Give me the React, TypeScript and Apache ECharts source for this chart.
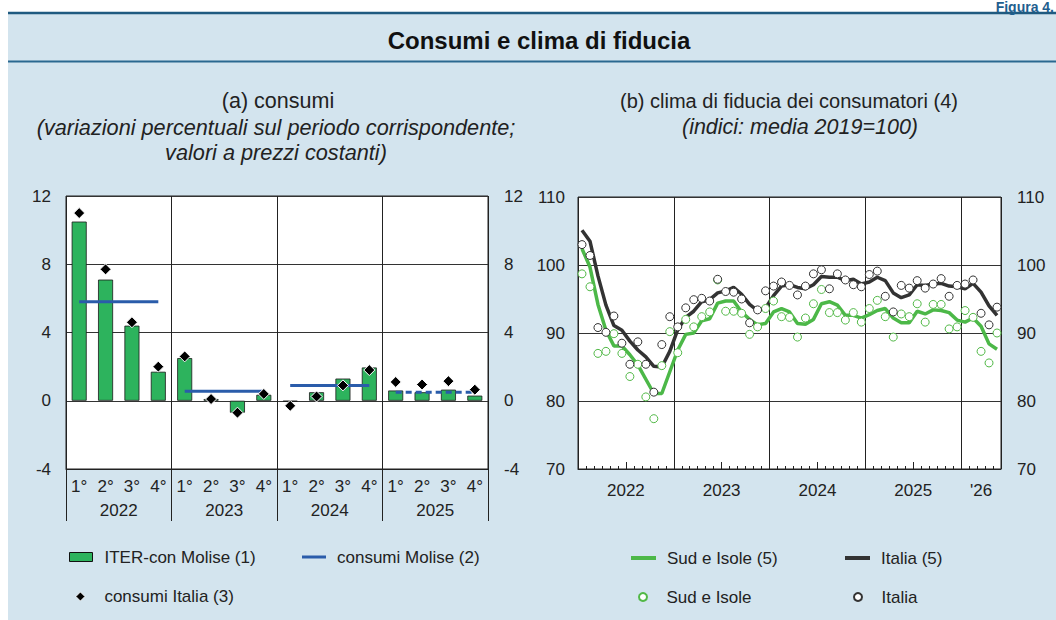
import React, { useEffect, useRef } from 'react';
import * as echarts from 'echarts';

// ---------- (a) consumi ----------
const years = ['2022', '2023', '2024', '2025'];
const quarters = ['1°', '2°', '3°', '4°'];
const iterMolise = [10.5, 7.1, 4.4, 1.7, 2.5, 0.1, -0.7, 0.35, -0.05, 0.5, 1.3, 1.95, 0.6, 0.5, 0.65, 0.3];
const consumiItalia = [11.0, 7.7, 4.6, 2.0, 2.6, 0.1, -0.7, 0.4, -0.3, 0.25, 0.9, 1.8, 1.1, 0.95, 1.15, 0.65];
const consumiMolise = [5.8, 0.55, 0.9, 0.5];
const moliseDashed = [false, false, false, true];
const leftTicks = { min: -4, max: 12, interval: 4 };

// ---------- (b) clima di fiducia ----------
const rightYearLabels = ['2022', '2023', '2024', '2025', "'26"];
const sudIsoleMA = [102.4, 99.7, 94.2, 90.4, 88.1, 88.1, 86.8, 85.3, 83.2, 81.1, 81.1, 84.3, 87.5, 89.8, 90.0, 91.8, 92.1, 94.4, 94.7, 94.7, 93.1, 92.0, 91.2, 91.4, 93.1, 93.6, 93.1, 91.4, 91.3, 92.0, 94.3, 94.6, 94.1, 92.6, 92.6, 92.2, 92.7, 93.3, 93.6, 92.2, 91.5, 91.5, 93.2, 92.8, 93.4, 93.3, 93.0, 91.9, 91.6, 92.2, 91.0, 88.4, 87.6];
const italiaMA = [105.1, 103.5, 98.4, 94.1, 91.1, 90.4, 88.8, 87.5, 86.5, 85.1, 85.0, 87.3, 90.5, 92.3, 93.2, 94.6, 94.9, 95.9, 96.2, 96.7, 95.7, 94.2, 93.3, 93.7, 95.5, 96.9, 97.1, 96.7, 96.5, 97.1, 98.3, 98.2, 98.2, 97.7, 97.9, 97.2, 97.5, 98.2, 97.7, 95.9, 95.2, 95.6, 97.1, 97.0, 97.2, 97.3, 96.9, 96.8, 96.5, 97.3, 96.0, 94.0, 92.6];
const sudIsole = [98.7, 96.8, 87.0, 87.3, 89.9, 87.0, 83.6, 85.4, 80.6, 77.4, 85.2, 90.2, 87.1, 92.0, 90.9, 92.4, 93.1, 97.8, 93.2, 93.2, 92.9, 89.8, 90.9, 93.6, 94.7, 92.4, 92.3, 89.4, 92.2, 94.3, 96.4, 93.0, 93.0, 91.9, 93.0, 91.6, 93.6, 94.8, 92.4, 89.4, 92.8, 92.4, 94.3, 91.6, 94.2, 94.2, 90.6, 90.9, 93.3, 92.3, 87.3, 85.6, 90.0];
const italia = [103.0, 101.4, 90.8, 90.1, 92.5, 88.5, 85.4, 88.7, 85.4, 81.3, 88.3, 92.4, 90.9, 93.7, 94.9, 95.1, 94.7, 97.9, 96.1, 96.0, 95.0, 91.5, 93.4, 96.2, 96.9, 97.5, 97.0, 95.6, 96.9, 98.7, 99.3, 96.5, 98.7, 97.8, 97.1, 96.8, 98.6, 99.1, 95.4, 93.1, 97.0, 96.6, 97.7, 96.6, 97.2, 98.0, 95.4, 97.0, 97.2, 97.8, 92.9, 91.2, 93.8];
const rightTicks = { min: 70, max: 110, interval: 10 };

const FONT = '"Liberation Sans", Arial, Helvetica, sans-serif';
const TXT = '#222';
const GRIDC = '#333';

const quarterCats = years.flatMap((y) => quarters.map((q) => q + ' ' + y));
const months = italia.map((_, i) => `${2022 + Math.floor(i / 12)}-${String((i % 12) + 1).padStart(2, '0')}`);

function yearLabelAt(v: number) {
  const n = months.length;
  for (let k = 0; k < rightYearLabels.length; k++) {
    const s = 12 * k;
    const e = Math.min(12 * k + 12, n);
    if (Math.abs(v - (s + e) / 2) < 1e-6) return rightYearLabels[k];
  }
  return '';
}

function txt(text: string, x: number, y: number, font: string, extra: any = {}) {
  return {
    type: 'text', z: 100, x, y,
    style: { text, font, fill: TXT, align: 'center', textAlign: 'center', verticalAlign: 'middle', textVerticalAlign: 'middle', ...extra },
  };
}

function buildOption(): any {
  const moliseSeries = consumiMolise.map((val, k) => ({
    type: 'line',
    name: 'consumi Molise (2)',
    xAxisIndex: 0,
    yAxisIndex: 0,
    data: quarterCats.map((_, i) => (Math.floor(i / 4) === k ? val : null)),
    symbol: 'none',
    connectNulls: false,
    lineStyle: { color: '#2a5caa', width: 3, type: moliseDashed[k] ? [6, 4] : 'solid' },
    itemStyle: { color: '#2a5caa' },
    z: 3,
  }));

  const legendText = { fontSize: 17, color: TXT, fontFamily: FONT, padding: [0, 0, 0, 6] };

  return {
    animation: false,
    textStyle: { fontFamily: FONT },
    grid: [
      { left: 66, top: 196, width: 422, height: 273, show: true, backgroundColor: '#fff', borderColor: '#222', borderWidth: 1, containLabel: false, outerBoundsMode: 'none' },
      { left: 578, top: 197, width: 423, height: 272, show: true, backgroundColor: '#fff', borderColor: '#222', borderWidth: 1, containLabel: false, outerBoundsMode: 'none' },
    ],
    xAxis: [
      {
        type: 'category', gridIndex: 0, position: 'bottom', data: quarterCats, boundaryGap: true,
        axisLine: { show: true, onZero: false, lineStyle: { color: '#222', width: 1 } },
        axisTick: { show: false },
        axisLabel: { interval: 0, margin: 9, fontSize: 17, color: TXT, formatter: (v: string) => v.split(' ')[0] },
        splitLine: { show: false },
      },
      {
        type: 'category', gridIndex: 0, position: 'bottom', data: years, boundaryGap: true,
        axisLine: { show: false, onZero: false },
        axisTick: { show: true, interval: 0, length: 52, lineStyle: { color: '#222', width: 1 } },
        axisLabel: { interval: 0, margin: 33, fontSize: 17, color: TXT },
        splitLine: { show: true, interval: 0, lineStyle: { color: '#222', width: 1 } },
      },
      {
        type: 'category', gridIndex: 1, position: 'bottom', data: months, boundaryGap: true,
        axisLine: { show: true, onZero: false, lineStyle: { color: '#222', width: 1 } },
        axisTick: { show: true, inside: true, interval: 0, length: 3, lineStyle: { color: '#222' } },
        axisLabel: { show: false },
        splitLine: { show: false },
      },
      {
        type: 'category', gridIndex: 1, position: 'bottom', data: months, boundaryGap: true,
        axisLine: { show: false, onZero: false },
        axisTick: { show: true, inside: true, interval: (i: number) => i % 12 === 6, length: 7, lineStyle: { color: '#222' } },
        axisLabel: { show: false },
        splitLine: { show: true, interval: (i: number) => i % 12 === 0, lineStyle: { color: '#222', width: 1 } },
      },
      {
        type: 'value', gridIndex: 1, position: 'bottom', min: 0, max: months.length, interval: 0.5,
        axisLine: { show: false, onZero: false }, axisTick: { show: false }, splitLine: { show: false },
        axisLabel: { margin: 13, fontSize: 17, color: TXT, formatter: yearLabelAt, showMinLabel: true, showMaxLabel: true },
      },
    ],
    yAxis: [
      {
        type: 'value', gridIndex: 0, position: 'left', ...leftTicks,
        axisLine: { show: false }, axisTick: { show: false },
        axisLabel: { margin: 15, fontSize: 17, color: TXT },
        splitLine: { show: true, lineStyle: { color: GRIDC, width: 1 } },
      },
      {
        type: 'value', gridIndex: 0, position: 'right', ...leftTicks,
        axisLine: { show: false }, axisTick: { show: false },
        axisLabel: { margin: 16, fontSize: 17, color: TXT },
        splitLine: { show: false },
      },
      {
        type: 'value', gridIndex: 1, position: 'left', ...rightTicks,
        axisLine: { show: false }, axisTick: { show: false },
        axisLabel: { margin: 13, fontSize: 17, color: TXT },
        splitLine: { show: true, lineStyle: { color: GRIDC, width: 1 } },
      },
      {
        type: 'value', gridIndex: 1, position: 'right', ...rightTicks,
        axisLine: { show: false }, axisTick: { show: false },
        axisLabel: { margin: 16, fontSize: 17, color: TXT },
        splitLine: { show: false },
      },
    ],
    legend: [
      { data: ['ITER-con Molise (1)'], left: 69, top: 548.5, padding: 0, icon: 'rect', itemWidth: 23, itemHeight: 9, itemStyle: { borderColor: '#111', borderWidth: 1 }, textStyle: { ...legendText, padding: [0, 0, 0, 7] }, selectedMode: false },
      { data: ['consumi Molise (2)'], left: 302, top: 548.5, padding: 0, icon: 'rect', itemWidth: 24, itemHeight: 3, textStyle: legendText, selectedMode: false },
      { data: ['consumi Italia (3)'], left: 75.5, top: 588, padding: 0, icon: 'diamond', itemWidth: 9, itemHeight: 9, itemStyle: { borderColor: '#fff', borderWidth: 0.8 }, textStyle: { ...legendText, padding: [0, 0, 0, 14.5] }, selectedMode: false },
      { data: ['Sud e Isole (5)'], left: 631, top: 549.5, padding: 0, icon: 'rect', itemWidth: 25, itemHeight: 4, textStyle: legendText, selectedMode: false },
      { data: ['Italia (5)'], left: 845, top: 549.5, padding: 0, icon: 'rect', itemWidth: 25, itemHeight: 4, textStyle: legendText, selectedMode: false },
      { data: ['Sud e Isole'], left: 638, top: 588.5, padding: 0, icon: 'circle', itemWidth: 25, itemHeight: 8, textStyle: legendText, selectedMode: false },
      { data: ['Italia'], left: 853, top: 588.5, padding: 0, icon: 'circle', itemWidth: 25, itemHeight: 8, textStyle: legendText, selectedMode: false },
    ],
    series: [
      {
        type: 'bar', name: 'ITER-con Molise (1)', xAxisIndex: 0, yAxisIndex: 0, data: iterMolise, barWidth: 15,
        itemStyle: { color: '#2db35d', borderColor: '#1a1a1a', borderWidth: 0.8 }, z: 2,
      },
      ...moliseSeries,
      {
        type: 'scatter', name: 'consumi Italia (3)', xAxisIndex: 0, yAxisIndex: 0, data: consumiItalia,
        symbol: 'diamond', symbolSize: 11,
        itemStyle: { color: '#000', borderColor: '#fff', borderWidth: 1, opacity: 1 }, z: 5,
      },
      {
        type: 'line', name: 'Sud e Isole (5)', xAxisIndex: 2, yAxisIndex: 2, data: sudIsoleMA, symbol: 'none',
        lineStyle: { color: '#4cb848', width: 3.5 }, itemStyle: { color: '#4cb848' }, z: 3,
      },
      {
        type: 'line', name: 'Italia (5)', xAxisIndex: 2, yAxisIndex: 2, data: italiaMA, symbol: 'none',
        lineStyle: { color: '#333', width: 3.5 }, itemStyle: { color: '#333' }, z: 3,
      },
      {
        type: 'scatter', name: 'Sud e Isole', xAxisIndex: 2, yAxisIndex: 2, data: sudIsole, symbol: 'circle', symbolSize: 8,
        itemStyle: { color: '#fff', borderColor: '#52b947', borderWidth: 1, opacity: 1 }, z: 4,
      },
      {
        type: 'scatter', name: 'Italia', xAxisIndex: 2, yAxisIndex: 2, data: italia, symbol: 'circle', symbolSize: 8,
        itemStyle: { color: '#fff', borderColor: '#333', borderWidth: 1, opacity: 1 }, z: 4,
      },
    ],
    graphic: [
      { type: 'line', z: 100, shape: { x1: 8, y1: 13, x2: 1056, y2: 13 }, style: { stroke: '#1f5a80', lineWidth: 2.5 } },
      { type: 'line', z: 100, shape: { x1: 8, y1: 61.5, x2: 1056, y2: 61.5 }, style: { stroke: '#2a6890', lineWidth: 2 } },
      { type: 'text', z: 100, x: 1054, y: 0, style: { text: 'Figura 4.', font: `bold 14px ${FONT}`, fill: '#1f5f8f', align: 'right', textAlign: 'right', verticalAlign: 'top', textVerticalAlign: 'top' } },
      txt('Consumi e clima di fiducia', 539, 40, `bold 24px ${FONT}`, { fill: '#111' }),
      txt('(a) consumi', 278, 101, `21.5px ${FONT}`),
      txt('(variazioni percentuali sul periodo corrispondente;', 276, 127, `italic 21.7px ${FONT}`),
      txt('valori a prezzi costanti)', 276, 152, `italic 21.7px ${FONT}`),
      txt('(b) clima di fiducia dei consumatori (4)', 789, 101, `20px ${FONT}`),
      txt('(indici: media 2019=100)', 800, 127, `italic 21.5px ${FONT}`),
    ],
  };
}

export default function App() {
  const ref = useRef<HTMLDivElement>(null);
  useEffect(() => {
    if (!ref.current) return;
    const chart = echarts.init(ref.current, null, { renderer: 'svg' });
    chart.setOption(buildOption());
    return () => chart.dispose();
  }, []);
  return (
    <div style={{ position: 'fixed', left: 0, top: 0, width: 1056, height: 620, background: '#fff', overflow: 'hidden' }}>
      <div style={{ position: 'absolute', left: 8, top: 13, width: 1048, height: 607, background: '#d3e4ee' }} />
      <div ref={ref} style={{ position: 'absolute', left: 0, top: 0, width: 1056, height: 620 }} />
    </div>
  );
}
